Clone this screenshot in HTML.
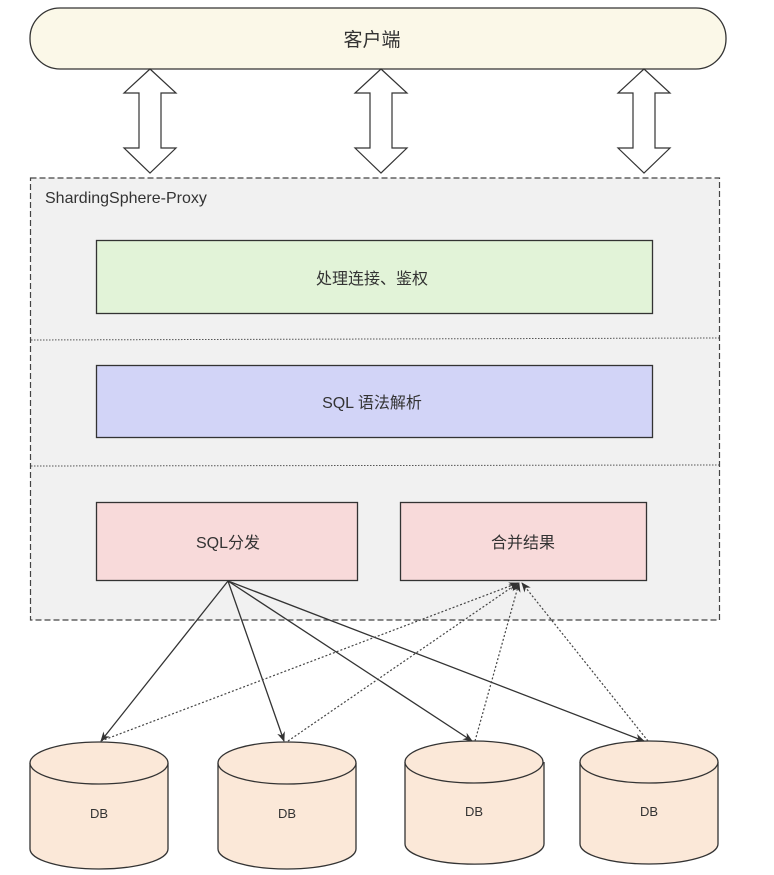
<!DOCTYPE html>
<html><head><meta charset="utf-8"><style>
body{margin:0;background:#fff;}
svg text{font-family:"Liberation Sans","Noto Sans CJK SC",sans-serif;fill:#333;}
</style></head><body>
<svg width="774" height="870" viewBox="0 0 774 870" xmlns="http://www.w3.org/2000/svg">
<defs>
<marker id="a" markerWidth="10" markerHeight="10" refX="9" refY="5" orient="auto" markerUnits="userSpaceOnUse"><path d="M0,1 L10,5 L0,9 L3,5 Z" fill="#333"/></marker>
</defs>
<rect x="30" y="8" width="696" height="61" rx="30" fill="#fbf8e8" stroke="#333" stroke-width="1.3"/>
<text x="372" y="46" font-size="19" text-anchor="middle">客户端</text>
<g fill="#fff" stroke="#333" stroke-width="1.2">
<path d="M150,69 L176,93 L161,93 L161,148 L176,148 L150,173 L124,148 L139,148 L139,93 L124,93 Z"/>
<path d="M381,69 L407,93 L392,93 L392,148 L407,148 L381,173 L355,148 L370,148 L370,93 L355,93 Z"/>
<path d="M644,69 L670,93 L655,93 L655,148 L670,148 L644,173 L618,148 L633,148 L633,93 L618,93 Z"/>
</g>
<rect x="30.5" y="178" width="689" height="442" fill="#f1f1f1" stroke="#444" stroke-width="1.2" stroke-dasharray="6,3"/>
<text x="45" y="203" font-size="16">ShardingSphere-Proxy</text>
<line x1="31" y1="340" x2="719" y2="338" stroke="#555" stroke-dasharray="1.5,1.5"/>
<line x1="31" y1="466" x2="719" y2="465" stroke="#555" stroke-dasharray="1.5,1.5"/>
<rect x="96.5" y="240.5" width="556" height="73" fill="#e2f3d8" stroke="#333" stroke-width="1.3"/>
<text x="372" y="284" font-size="16" text-anchor="middle">处理连接、鉴权</text>
<rect x="96.5" y="365.5" width="556" height="72" fill="#d2d4f7" stroke="#333" stroke-width="1.3"/>
<text x="372" y="408" font-size="16" text-anchor="middle">SQL 语法解析</text>
<rect x="96.5" y="502.5" width="261" height="78" fill="#f8dada" stroke="#333" stroke-width="1.3"/>
<text x="228" y="548" font-size="16" text-anchor="middle">SQL分发</text>
<rect x="400.5" y="502.5" width="246" height="78" fill="#f8dada" stroke="#333" stroke-width="1.3"/>
<text x="523" y="548" font-size="16" text-anchor="middle">合并结果</text>
<g fill="#fbe8d8" stroke="#333" stroke-width="1.3">
<path d="M30,763 L30,849 A69,20 0 0 0 168,849 L168,763"/><ellipse cx="99" cy="763" rx="69" ry="21"/>
<path d="M218,763 L218,849 A69,20 0 0 0 356,849 L356,763"/><ellipse cx="287" cy="763" rx="69" ry="21"/>
<path d="M405,762 L405,844 A69,20 0 0 0 544,844 L544,762"/><ellipse cx="474" cy="762" rx="69" ry="21"/>
<path d="M580,762 L580,844 A69,20 0 0 0 718,844 L718,762"/><ellipse cx="649" cy="762" rx="69" ry="21"/>
</g>
<text x="99" y="818" font-size="13" text-anchor="middle">DB</text>
<text x="287" y="818" font-size="13" text-anchor="middle">DB</text>
<text x="474" y="816" font-size="13" text-anchor="middle">DB</text>
<text x="649" y="816" font-size="13" text-anchor="middle">DB</text>
<g stroke="#333" stroke-width="1.3" fill="none" marker-end="url(#a)">
<line x1="228" y1="581" x2="101" y2="741"/>
<line x1="228" y1="581" x2="284" y2="741"/>
<line x1="228" y1="581" x2="472" y2="741"/>
<line x1="228" y1="581" x2="644" y2="741"/>
</g>
<g stroke="#444" stroke-width="1.2" fill="none" stroke-dasharray="2,2" marker-end="url(#a)">
<line x1="101" y1="741" x2="518" y2="583"/>
<line x1="288" y1="741" x2="518" y2="583"/>
<line x1="475" y1="741" x2="519" y2="583"/>
<line x1="648" y1="741" x2="522" y2="583"/>
</g>
</svg>
</body></html>
